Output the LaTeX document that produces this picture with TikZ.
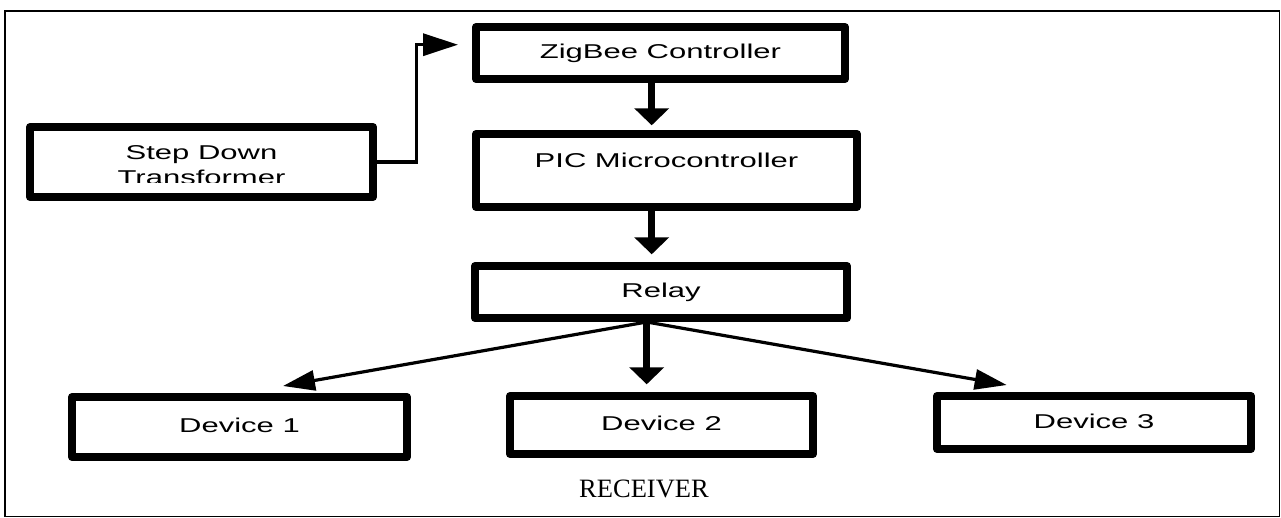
\documentclass[tikz,border=0pt]{standalone}
\usepackage{fontspec}
\usetikzlibrary{arrows.meta}
\newfontfamily\boxfont[FakeStretch=1.55]{Liberation Sans}
\newfontfamily\recfont{Liberation Serif}
\tikzset{
  blk/.style={draw=black, line width=8pt, line join=round, inner sep=0pt,
    font=\boxfont\fontsize{20pt}{24pt}\selectfont, text height=14.5pt, text depth=3pt},
  txt/.style={inner sep=0pt, font=\boxfont\fontsize{20pt}{24pt}\selectfont},
  fat/.style={line width=7.5pt, -{Triangle[length=17pt,width=34pt]}},
  thinarr/.style={line width=3.2pt, -{Triangle[length=32pt,width=20pt]}},
  elbow/.style={line width=3.3pt, -{Triangle[length=35pt,width=22pt]}},
}
\begin{document}
\begin{tikzpicture}[x=1pt,y=-1pt]
\useasboundingbox (0,0) rectangle (1281,518);
% outer frame
\draw[line width=1.5pt] (5,11) rectangle (1279.5,516.5);
% boxes
\node[blk, minimum width=369pt, minimum height=52pt] (zig) at (660.5,53) {ZigBee Controller};
\node[blk, minimum width=343pt, minimum height=70pt] (sd) at (201.5,162) {};
\node[blk, minimum width=381pt, minimum height=73pt, text depth=21.2pt] (pic) at (666.5,170.5) {PIC Microcontroller};
\node[blk, minimum width=372pt, minimum height=52pt] (relay) at (661,292) {Relay};
\node[blk, minimum width=335pt, minimum height=60pt] (d1) at (239.5,427) {Device 1};
\node[blk, minimum width=303pt, minimum height=58pt] (d2) at (661.5,425) {Device 2};
\node[blk, minimum width=314pt, minimum height=53pt] (d3) at (1094,422.5) {Device 3};
% step down text (second line cut off at the bottom)
\begin{scope}
  \clip (34,131) rectangle (369,182.5);
  \node[txt, anchor=base] (sdl1) at (201.5,160) {Step Down};
  \node[txt, anchor=base] (sdl2) at (201.5,184.5) {Transformer};
\end{scope}
% caption
\node[font=\recfont\fontsize{26.5pt}{30pt}\selectfont, inner sep=0pt] (rec) at (644,489.3) {RECEIVER};
% helper coordinates
\coordinate (ax) at (651.7,0);
\coordinate (bx) at (646.7,0);
\coordinate (bend) at (416.7,44.7);
\coordinate (zin) at (458,44.7);
\coordinate (d1in) at (283,386);
\coordinate (d3in) at (1006.7,385);
% connectors
\draw[elbow] (sd.east) -| (bend) -- (zin);
\draw[fat, shorten >=4.7pt] (zig.south -| ax) -- (pic.north -| ax);
\draw[fat, shorten >=7.7pt] (pic.south -| ax) -- (relay.north -| ax);
\draw[fat, shorten >=7.7pt] (relay.south -| bx) -- (d2.north -| bx);
\draw[thinarr] (relay.south -| bx) -- (d1in);
\draw[thinarr] (relay.south -| bx) -- (d3in);
\end{tikzpicture}
\end{document}
